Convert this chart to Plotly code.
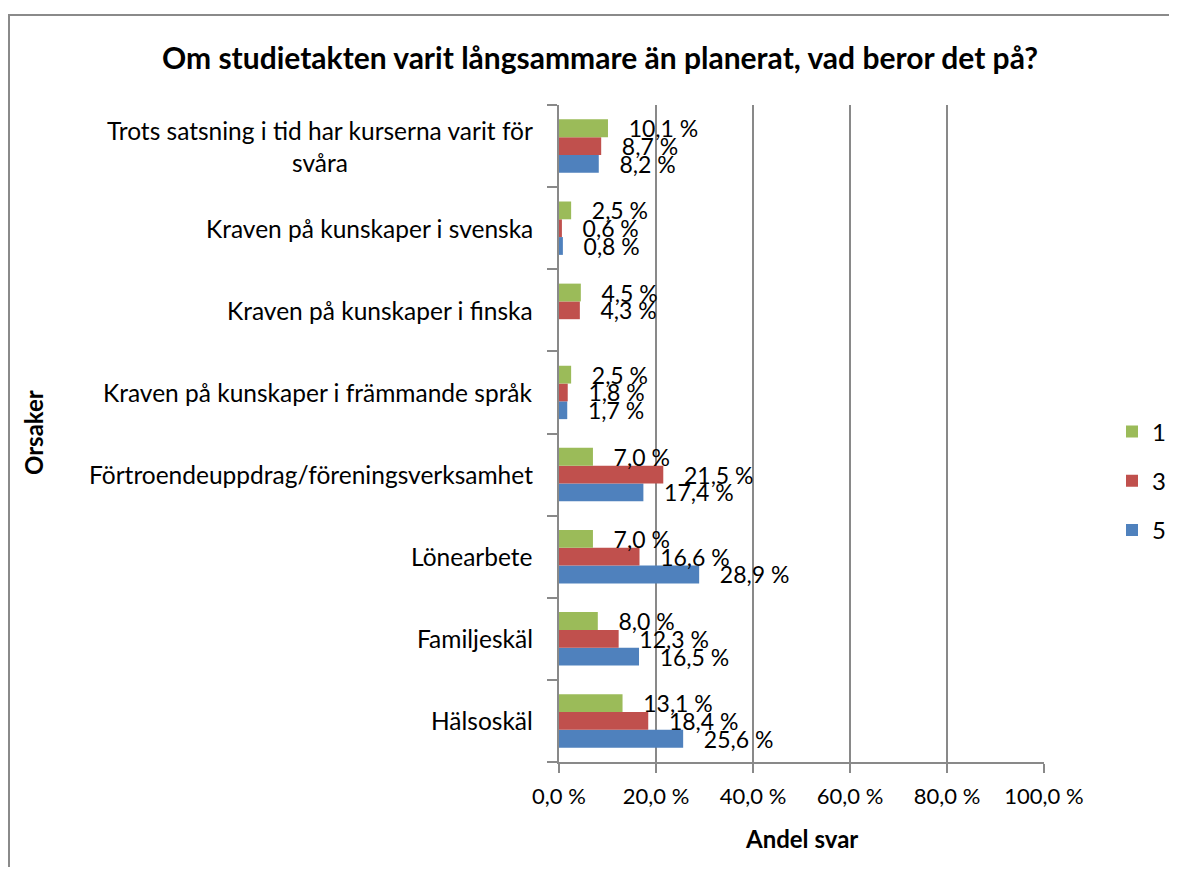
import plotly.graph_objects as go

categories = [
    "Hälsoskäl",
    "Familjeskäl",
    "Lönearbete",
    "Förtroendeuppdrag/föreningsverksamhet",
    "Kraven på kunskaper i främmande språk",
    "Kraven på kunskaper i finska",
    "Kraven på kunskaper i svenska",
    "Trots satsning i tid har kurserna varit för<br>svåra",
]
series_names = ["5", "3", "1"]
legend_ranks = [3, 2, 1]
values_5 = [25.6, 16.5, 28.9, 17.4, 1.7, None, 0.8, 8.2]
values_3 = [18.4, 12.3, 16.6, 21.5, 1.8, 4.3, 0.6, 8.7]
values_1 = [13.1, 8.0, 7.0, 7.0, 2.5, 4.5, 2.5, 10.1]
colors = ["#4F81BD", "#C0504D", "#9BBB59"]

x_ticks = [0, 20, 40, 60, 80, 100]
x_ticktext = [f"{v:.1f} %".replace(".", ",") for v in x_ticks]

FONT = "Lato"
GRAY = "#898989"

# figure is drawn with an 8px page offset
OFF = 8
W, H = 1177 - 2 * OFF, 875 - 2 * OFF
L, R, T, B = 559 - OFF, 1044 - OFF, 105 - OFF, 762 - OFF
pw, ph = R - L, B - T

fig = go.Figure()
for name, vals, col, rk in zip(series_names, [values_5, values_3, values_1], colors, legend_ranks):
    fig.add_trace(go.Bar(
        y=categories, x=vals, orientation="h", name=name,
        marker=dict(color=col, line=dict(width=0)),
        texttemplate="\u00a0\u00a0\u00a0%{x:.1f} %",
        textposition="outside", constraintext="none", cliponaxis=False,
        textfont=dict(family=FONT, size=23, color="black"),
        legendgroup=name, legendrank=rk,
    ))

annotations = []
for c in categories:
    annotations.append(dict(
        x=0, xref="paper", y=c, yref="y", text=c, showarrow=False,
        xanchor="right", yanchor="middle", align="center", xshift=-24,
        font=dict(family=FONT, size=24.5, color="black"),
    ))
annotations.append(dict(
    x=(33 - OFF - L) / pw, xref="paper", y=(B - (433 - OFF)) / ph, yref="paper",
    text="<b>Orsaker</b>", textangle=-90, showarrow=False,
    xanchor="center", yanchor="middle",
    font=dict(family=FONT, size=24, color="black"),
))
annotations.append(dict(
    x=0.5, xref="paper", y=(B - (838 - OFF)) / ph, yref="paper",
    text="<b>Andel svar</b>", showarrow=False,
    xanchor="center", yanchor="middle",
    font=dict(family=FONT, size=24, color="black"),
))

fig.update_layout(
    width=W, height=H,
    margin=dict(l=L, r=W - R, t=T, b=H - B, pad=0),
    plot_bgcolor="white", paper_bgcolor="white",
    separators=", ",
    barmode="group", bargap=0.35, bargroupgap=0,
    title=dict(
        text="<b>Om studietakten varit långsammare än planerat, vad beror det på?</b>",
        x=(600 - OFF) / W, xref="container", xanchor="center",
        y=1 - (58 - OFF) / H, yref="container", yanchor="middle",
        font=dict(family=FONT, size=30, color="black"),
    ),
    xaxis=dict(
        range=[0, 100], tickvals=x_ticks, ticktext=x_ticktext,
        showgrid=True, gridcolor=GRAY, gridwidth=2,
        showline=True, linecolor=GRAY, linewidth=2,
        ticks="outside", ticklen=9, tickwidth=2, tickcolor=GRAY,
        ticklabelstandoff=5,
        zeroline=False,
        tickfont=dict(family=FONT, size=22, color="black"),
        fixedrange=True,
    ),
    yaxis=dict(
        categoryorder="array", categoryarray=categories,
        showticklabels=False, tickson="boundaries",
        ticks="outside", ticklen=10, tickwidth=2, tickcolor=GRAY,
        showline=True, linecolor=GRAY, linewidth=2,
        showgrid=False, zeroline=False, fixedrange=True,
    ),
    legend=dict(
        xref="container", yref="container",
        x=(1112 - OFF) / W, xanchor="left",
        y=1 - (481 - OFF) / H, yanchor="middle",
        traceorder="grouped", tracegroupgap=15,
        font=dict(family=FONT, size=24, color="black"),
        bgcolor="rgba(0,0,0,0)",
    ),
    annotations=annotations,
    shapes=[dict(
        type="rect", xref="paper", yref="paper",
        x0=(1 - L) / pw, x1=(W + 20 - L) / pw,
        y0=(B - (H + 20)) / ph, y1=(B - (15 - OFF)) / ph,
        line=dict(color="#8a8a8a", width=2), fillcolor="rgba(0,0,0,0)", layer="below",
    )],
)

fig.write_html("out.html")
